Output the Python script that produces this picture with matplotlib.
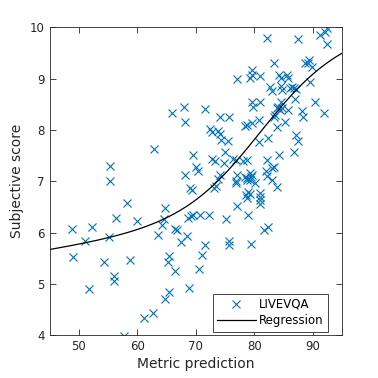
import matplotlib
matplotlib.use("Agg")
import matplotlib.pyplot as plt
import numpy as np

# metric prediction vs subjective score
metric = np.array([
    48.9, 49.0, 51.0, 51.7, 52.2, 54.3, 55.2, 55.3, 55.3, 56.1,
    56.0, 56.4, 57.7, 58.3, 58.8, 60.0, 61.1, 62.7, 62.9, 63.6,
    64.2, 64.6, 64.8, 64.7, 65.4, 65.5, 65.3, 66.0, 66.4, 66.5,
    66.8, 68.0, 68.2, 68.2, 68.5, 67.4, 68.6, 69.1, 68.8, 69.0,
    69.3, 69.5, 70.1, 70.4, 70.6, 70.7, 71.0, 71.6, 71.6, 72.3,
    72.4, 72.8, 73.8, 74.1, 74.1, 72.7, 73.2, 73.1, 73.5, 73.8,
    74.1, 74.3, 75.0, 74.8, 75.1, 75.5, 75.7, 75.6, 75.6, 76.4,
    76.8, 76.8, 77.0, 77.0, 77.1, 76.8, 78.1, 78.4, 78.4, 78.8,
    78.8, 78.5, 78.8, 79.0, 79.2, 79.0, 79.4, 79.6, 79.3, 79.6,
    79.4, 79.3, 80.2, 79.6, 79.6, 79.3, 79.6, 79.8, 78.7, 80.8,
    80.8, 80.9, 81.0, 80.9, 80.9, 81.0, 81.0, 81.7, 82.1, 82.1,
    82.0, 82.1, 82.3, 82.4, 82.7, 83.0, 83.3, 83.1, 83.4, 83.1,
    83.3, 83.6, 83.8, 84.1, 84.4, 84.7, 83.8, 83.8, 84.3, 84.2,
    84.6, 85.5, 85.8, 84.6, 84.7, 84.6, 85.3, 85.8, 86.1, 86.4,
    86.7, 87.1, 87.0, 87.1, 87.4, 86.8, 87.4, 88.1, 88.3, 88.7,
    89.4, 89.2, 89.8, 89.6, 90.3, 91.2, 92.1, 92.5, 92.4, 91.9,
    78.7, 69.5,
])
score = np.array([
    6.07, 5.52, 5.83, 4.90, 6.11, 5.43, 5.92, 7.30, 7.01, 5.15,
    5.06, 6.29, 3.98, 6.58, 5.47, 6.23, 4.33, 4.44, 7.63, 5.96,
    6.15, 6.26, 6.48, 4.71, 4.85, 5.55, 5.42, 8.32, 5.25, 6.07,
    6.05, 8.45, 8.16, 7.13, 5.94, 5.81, 6.29, 6.33, 4.93, 6.86,
    6.83, 7.52, 7.27, 7.20, 5.29, 6.34, 5.56, 5.75, 8.41, 6.34,
    8.02, 7.95, 7.98, 8.25, 7.93, 7.44, 7.40, 6.86, 6.91, 7.05,
    7.13, 7.81, 7.57, 7.35, 6.27, 7.79, 8.25, 5.83, 5.75, 7.44,
    7.41, 6.97, 8.99, 6.51, 7.13, 7.00, 7.39, 8.08, 7.08, 7.03,
    7.42, 6.74, 6.67, 6.80, 6.76, 6.35, 5.77, 8.13, 7.17, 7.13,
    7.08, 7.03, 6.96, 9.17, 9.07, 9.01, 8.55, 8.45, 8.10, 8.19,
    7.76, 6.77, 6.70, 6.64, 6.56, 9.05, 8.55, 6.05, 9.79, 7.41,
    7.19, 7.11, 6.11, 7.84, 8.84, 8.76, 9.31, 7.26, 7.27, 7.03,
    8.26, 8.29, 8.42, 8.45, 8.39, 8.42, 8.06, 6.88, 7.51, 9.07,
    9.01, 9.06, 9.02, 8.86, 8.78, 8.55, 8.15, 8.39, 8.81, 8.84,
    8.82, 8.80, 8.60, 7.91, 7.79, 7.57, 9.78, 8.37, 8.26, 9.30,
    9.36, 9.30, 9.23, 8.93, 8.54, 9.85, 9.91, 9.98, 9.67, 8.33,
    7.06, 6.35,
])

# fitted 5-parameter logistic for the regression curve
beta = [3.3, 0.15, 81.0, 0.018, 6.495]

xfit = np.linspace(45, 95, 300)
yfit = beta[0] * (0.5 - 1 / (1 + np.exp(beta[1] * (xfit - beta[2])))) + beta[3] * xfit + beta[4]

plt.rcParams['font.family'] = 'DejaVu Sans'

fig = plt.figure(figsize=(3.78, 3.78), dpi=100)
ax = fig.add_axes([0.131, 0.113, 0.774, 0.815])

ax.plot(metric, score, 'x', color='#0072BD', ms=6, mew=0.8, label='LIVEVQA')
ax.plot(xfit, yfit, '-', color='black', lw=0.9, label='Regression')

ax.set_xlim(45, 95)
ax.set_ylim(4, 10)
ax.set_xticks([50, 60, 70, 80, 90])
ax.set_yticks([4, 5, 6, 7, 8, 9, 10])
ax.tick_params(direction='in', top=True, right=True, length=4, width=0.6,
               labelsize=8.5, colors='#262626')
for s in ax.spines.values():
    s.set_linewidth(0.6)
    s.set_color('#262626')

ax.set_xlabel('Metric prediction', fontsize=10, color='#262626', labelpad=3)
ax.set_ylabel('Subjective score', fontsize=10, color='#262626', labelpad=4)

leg = ax.legend(loc='lower right', bbox_to_anchor=(0.952, 0.012), fontsize=8.5,
                fancybox=False, framealpha=1, edgecolor='#262626',
                handlelength=3.3, borderpad=0.35, labelspacing=0.3,
                handletextpad=0.3, borderaxespad=0)
leg.get_frame().set_linewidth(0.6)

fig.savefig('out.png', dpi=100)
